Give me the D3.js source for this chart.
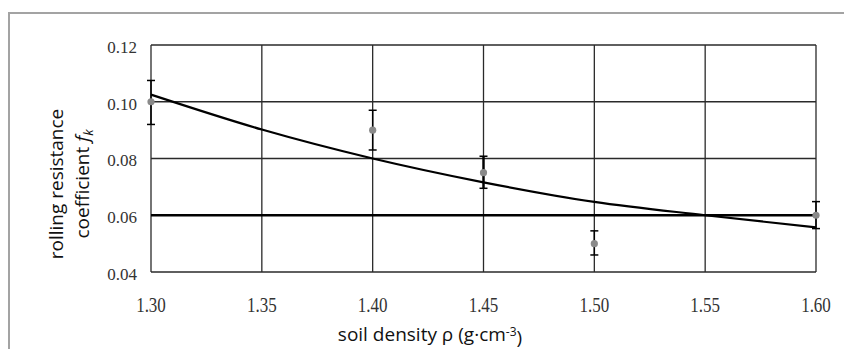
<!DOCTYPE html>
<html>
<head>
<meta charset="utf-8">
<script src="https://cdn.jsdelivr.net/npm/d3@7"></script>
<style>
  body { margin: 0; background: #fff; }
  .tick-label { font-family: "Liberation Serif", "Times New Roman", serif; fill: #333; }
  .axis-title { font-family: "Open Sans", "Noto Sans", sans-serif; fill: #111; }
</style>
</head>
<body>
<script>
// data
var xTicks = [1.30, 1.35, 1.40, 1.45, 1.50, 1.55, 1.60];
var yTicks = [0.04, 0.06, 0.08, 0.10, 0.12];

var density = [1.30, 1.40, 1.45, 1.50, 1.60];
var fk      = [0.100, 0.090, 0.075, 0.050, 0.060];
var fkLow   = [0.092, 0.083, 0.0695, 0.046, 0.0553];
var fkHigh  = [0.1075, 0.097, 0.0808, 0.0545, 0.0648];

var fitDensity = [1.30, 1.35, 1.40, 1.45, 1.50, 1.55, 1.60];
var fitFk      = [0.1025, 0.0902, 0.0800, 0.0716, 0.0647, 0.0600, 0.0557];

var limitFk = 0.06;

// canvas
var W = 844, H = 349;
var margin = {top: 45, right: 28, bottom: 77, left: 151},
    width = W - margin.left - margin.right,
    height = H - margin.top - margin.bottom;

var svg = d3.select("body").append("svg")
    .attr("width", W)
    .attr("height", H);

// outer frame (top + left only)
svg.append("path")
    .attr("d", "M9,349 L9,13 L844,13")
    .attr("fill", "none")
    .attr("stroke", "#a3a3a3")
    .attr("stroke-width", 2);

var g = svg.append("g")
    .attr("transform", "translate(" + margin.left + "," + margin.top + ")");

var x = d3.scaleLinear().domain([1.30, 1.60]).range([0, width]);
var y = d3.scaleLinear().domain([0.04, 0.12]).range([height, 0]);

// grid
g.selectAll(".vgrid")
    .data(xTicks)
  .enter().append("line")
    .attr("x1", function(d) { return x(d); })
    .attr("x2", function(d) { return x(d); })
    .attr("y1", 0)
    .attr("y2", height)
    .attr("stroke", "#2a2a2a")
    .attr("stroke-width", 1.3);

g.selectAll(".hgrid")
    .data(yTicks)
  .enter().append("line")
    .attr("x1", 0)
    .attr("x2", width)
    .attr("y1", function(d) { return y(d); })
    .attr("y2", function(d) { return y(d); })
    .attr("stroke", "#2a2a2a")
    .attr("stroke-width", 1.3);

// y tick labels
g.selectAll(".ylab")
    .data(yTicks)
  .enter().append("text")
    .attr("class", "tick-label")
    .attr("x", -14)
    .attr("y", function(d) { return y(d) + 2; })
    .attr("dy", "0.35em")
    .style("text-anchor", "end")
    .style("font-size", "17px")
    .text(function(d) { return d3.format(".2f")(d); });

// x tick labels (slightly stretched vertically like the original)
g.selectAll(".xlab")
    .data(xTicks)
  .enter().append("text")
    .attr("class", "tick-label")
    .attr("transform", function(d) { return "translate(" + x(d) + "," + (height + 32) + ") scale(1,1.28)"; })
    .attr("dy", "0.35em")
    .style("text-anchor", "middle")
    .style("font-size", "17px")
    .text(function(d) { return d3.format(".2f")(d); });

// limit line
g.append("line")
    .attr("x1", x(1.30))
    .attr("x2", x(1.60))
    .attr("y1", y(limitFk))
    .attr("y2", y(limitFk))
    .attr("stroke", "#000")
    .attr("stroke-width", 2.6);

// fitted curve
var fit = fitDensity.map(function(d, i) { return [d, fitFk[i]]; });
g.append("path")
    .datum(fit)
    .attr("fill", "none")
    .attr("stroke", "#000")
    .attr("stroke-width", 2.2)
    .attr("d", d3.line()
        .x(function(d) { return x(d[0]); })
        .y(function(d) { return y(d[1]); })
        .curve(d3.curveMonotoneX));

// error bars
var pts = density.map(function(d, i) {
    return {x: d, y: fk[i], lo: fkLow[i], hi: fkHigh[i]};
});

var eb = g.selectAll(".err")
    .data(pts)
  .enter().append("g");

eb.append("line")
    .attr("x1", function(d) { return x(d.x); })
    .attr("x2", function(d) { return x(d.x); })
    .attr("y1", function(d) { return y(d.lo); })
    .attr("y2", function(d) { return y(d.hi); })
    .attr("stroke", "#000")
    .attr("stroke-width", function(d) { return d.x === 1.45 ? 2.4 : 1.5; });

eb.append("line")
    .attr("x1", function(d) { return x(d.x) - 4; })
    .attr("x2", function(d) { return x(d.x) + 4; })
    .attr("y1", function(d) { return y(d.hi); })
    .attr("y2", function(d) { return y(d.hi); })
    .attr("stroke", "#000")
    .attr("stroke-width", 1.5);

eb.append("line")
    .attr("x1", function(d) { return x(d.x) - 4; })
    .attr("x2", function(d) { return x(d.x) + 4; })
    .attr("y1", function(d) { return y(d.lo); })
    .attr("y2", function(d) { return y(d.lo); })
    .attr("stroke", "#000")
    .attr("stroke-width", 1.5);

// measured points
g.selectAll(".pt")
    .data(pts)
  .enter().append("circle")
    .attr("cx", function(d) { return x(d.x); })
    .attr("cy", function(d) { return y(d.y); })
    .attr("r", 3.6)
    .attr("fill", "#8a8a8a");

// axis titles
var xt = svg.append("text")
    .attr("class", "axis-title")
    .attr("x", 430)
    .attr("y", 341)
    .style("text-anchor", "middle")
    .style("font-size", "19px");
xt.append("tspan").text("soil density \u03c1 (g\u00b7cm");
xt.append("tspan").attr("dy", "-0.45em").style("font-size", "12px").text("-3");
xt.append("tspan").attr("dy", "0.45em").text(")");

var yt = svg.append("text")
    .attr("class", "axis-title")
    .attr("transform", "translate(0,184) rotate(-90)")
    .style("text-anchor", "middle")
    .style("font-size", "19px");
yt.append("tspan").attr("x", 0).attr("y", 63).text("rolling resistance");
var l2 = yt.append("tspan").attr("x", 0).attr("y", 89);
l2.append("tspan").text("coefficient ");
l2.append("tspan").style("font-style", "italic").text("f");
l2.append("tspan").attr("dy", "0.3em").style("font-style", "italic").style("font-size", "13px").text("k");
</script>
</body>
</html>
